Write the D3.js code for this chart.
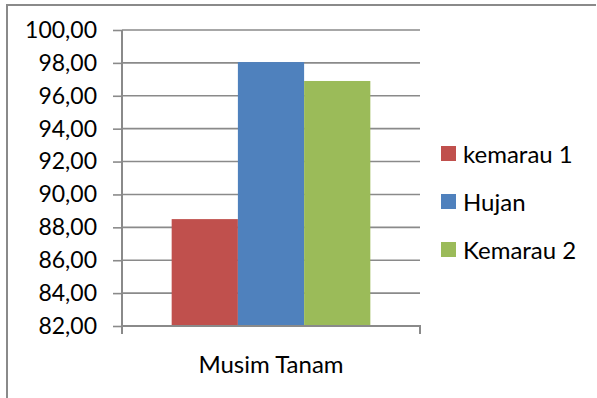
<!DOCTYPE html>
<html>
<head>
<meta charset="utf-8">
<script src="https://cdnjs.cloudflare.com/ajax/libs/d3/7.8.5/d3.min.js"></script>
<style>
  body { margin: 0; background: #fff; }
  svg { display: block; font-family: Lato, "Open Sans", sans-serif; }
</style>
</head>
<body>
<svg width="597" height="398"></svg>
<script>
// data
var categories = ["Musim Tanam"];
var seriesNames = ["kemarau 1", "Hujan", "Kemarau 2"];
var seriesValues = [88.50, 98.05, 96.90];
var seriesColors = ["#c0504d", "#4f81bd", "#9bbb59"];
var yTicks = [82, 84, 86, 88, 90, 92, 94, 96, 98, 100];

var svg = d3.select("svg"),
    margin = {top: 30, right: 177, bottom: 72, left: 122},
    width = +svg.attr("width") - margin.left - margin.right,
    height = +svg.attr("height") - margin.top - margin.bottom;

// outer chart frame (bottom and right are cut off in the picture)
svg.append("path")
    .attr("d", "M7,400 L7,5 L596,5")
    .attr("fill", "none")
    .attr("stroke", "#8a8a8a")
    .attr("stroke-width", 2);

var x0 = d3.scaleBand().domain(categories).range([0, width]).paddingInner(0).paddingOuter(0);
// gap width 150% of one bar, split on both sides
var x1 = d3.scaleBand().domain(seriesNames)
    .range([0, x0.bandwidth()]).paddingInner(0).paddingOuter(0.75);
var y = d3.scaleLinear().domain([82, 100]).range([height, 0]);

var g = svg.append("g")
    .attr("transform", "translate(" + margin.left + "," + margin.top + ")");

// gridlines
g.append("g")
    .selectAll("line")
    .data(yTicks.slice(1))
    .enter().append("line")
      .attr("x1", 0)
      .attr("x2", width)
      .attr("y1", function(d) { return y(d); })
      .attr("y2", function(d) { return y(d); })
      .attr("stroke", "#8a8a8a")
      .attr("stroke-width", 1.6);

// bars
var cat = g.selectAll(".cat")
    .data(categories)
    .enter().append("g")
      .attr("class", "cat")
      .attr("transform", function(d) { return "translate(" + x0(d) + ",0)"; });

cat.selectAll("rect")
    .data(seriesNames.map(function(n, i) { return {name: n, value: seriesValues[i], color: seriesColors[i]}; }))
    .enter().append("rect")
      .attr("x", function(d) { return x1(d.name); })
      .attr("y", function(d) { return y(d.value); })
      .attr("width", x1.bandwidth())
      .attr("height", function(d) { return height - y(d.value); })
      .attr("fill", function(d) { return d.color; });

// y axis
var fmt = function(d) { return d3.format(".2f")(d).replace(".", ","); };
var yAxis = g.append("g")
    .call(d3.axisLeft(y).tickValues(yTicks).tickFormat(fmt).tickSize(9).tickPadding(16));
yAxis.select(".domain").attr("stroke", "#8a8a8a").attr("stroke-width", 2)
    .attr("d", "M0," + y(100) + "V" + (height + 8));
yAxis.selectAll(".tick line").attr("stroke", "#8a8a8a").attr("stroke-width", 1.6);
yAxis.selectAll(".tick text")
    .attr("font-size", 23)
    .attr("fill", "#000")
    .attr("font-family", "Lato, 'Open Sans', sans-serif");

// x axis
var xAxis = g.append("g")
    .attr("transform", "translate(0," + height + ")")
    .call(d3.axisBottom(x0).tickSize(0).tickPadding(30));
xAxis.select(".domain").attr("stroke", "#8a8a8a").attr("stroke-width", 2)
    .attr("d", "M0,0H" + width + "V8");
xAxis.selectAll(".tick text")
    .attr("font-size", 24)
    .attr("fill", "#000")
    .attr("font-family", "Lato, 'Open Sans', sans-serif");

// legend
var legend = svg.append("g")
    .attr("transform", "translate(441,146)");
var item = legend.selectAll(".item")
    .data(seriesNames)
    .enter().append("g")
      .attr("class", "item")
      .attr("transform", function(d, i) { return "translate(0," + (i * 48) + ")"; });
item.append("rect")
    .attr("width", 15)
    .attr("height", 15)
    .attr("fill", function(d, i) { return seriesColors[i]; });
item.append("text")
    .attr("x", 22)
    .attr("y", 8)
    .attr("dy", "0.36em")
    .attr("font-size", 24)
    .attr("fill", "#000")
    .text(function(d) { return d; });
</script>
</body>
</html>
